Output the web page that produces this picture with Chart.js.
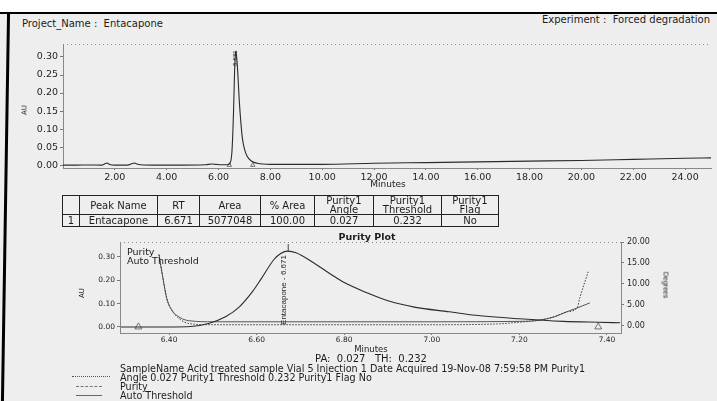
<!DOCTYPE html>
<html>
<head>
<meta charset="utf-8">
<script src="https://cdn.jsdelivr.net/npm/chart.js@4.4.0/dist/chart.umd.min.js"></script>
<style>
  html, body { margin: 0; padding: 0; }
  body { width: 717px; height: 401px; position: relative; overflow: hidden; background: #fff;
         font-family: "DejaVu Sans", sans-serif; color: #1c1c1c; }
  #sheet { position: absolute; left: 0; top: 12px; width: 717px; height: 389px; background: #eeeeee; }
  #topBorder { position: absolute; left: 0; top: 12px; width: 717px; height: 2px; background: #000; }
  #leftBorder { position: absolute; left: 4px; top: 12px; width: 3px; height: 389px; background: #000; transform: rotate(0.9deg); }
  .t { position: absolute; white-space: pre; line-height: 1; }
  .c { position: absolute; white-space: pre; line-height: 1; transform: translate(-50%, -50%); }
  canvas { position: absolute; left: 0; }
  #peakTable { position: absolute; left: 62px; top: 195px; border-collapse: collapse; table-layout: fixed;
               font-size: 10px; }
  #peakTable td { border: 1px solid #222; padding: 0; text-align: center; vertical-align: middle; line-height: 9px; }
  .leg { position: absolute; height: 0; }
</style>
</head>
<body>
<div id="sheet"></div>
<div id="topBorder"></div>
<div id="leftBorder"></div>

<div class="t" style="left:22px;top:19px;font-size:10px">Project_Name :  Entacapone</div>
<div class="t" style="right:7px;top:15px;font-size:10px">Experiment :  Forced degradation</div>

<canvas id="topChart" width="717" height="160" style="top:30px"></canvas>
<div class="c" style="left:25px;top:110px;font-size:7px;transform:translate(-50%,-50%) rotate(-90deg)">AU</div>
<div class="c" style="left:388px;top:184px;font-size:9px">Minutes</div>

<table id="peakTable"></table>
<div class="c" style="left:367px;top:237px;font-size:9.5px;font-weight:bold">Purity Plot</div>

<canvas id="purityChart" width="717" height="120" style="top:232px"></canvas>
<div class="c" style="left:82px;top:293px;font-size:7px;transform:translate(-50%,-50%) rotate(-90deg)">AU</div>
<div class="c" style="left:666px;top:285px;font-family:'Liberation Sans';font-size:7px;transform:translate(-50%,-50%) rotate(90deg)">Degrees</div>
<div class="t" style="left:127px;top:247px;font-size:9.5px">Purity</div>
<div class="t" style="left:127px;top:256px;font-size:9.5px">Auto Threshold</div>

<div class="c" style="left:371px;top:349px;font-size:8.5px">Minutes</div>
<div class="c" style="left:371px;top:359px;font-size:10px">PA:  0.027   TH:  0.232</div>
<div class="t" style="left:120px;top:364px;font-size:9.6px">SampleName Acid treated sample Vial 5 Injection 1 Date Acquired 19-Nov-08 7:59:58 PM Purity1</div>
<div class="t" style="left:120px;top:373px;font-size:9.6px">Angle 0.027 Purity1 Threshold 0.232 Purity1 Flag No</div>
<div class="t" style="left:120px;top:382px;font-size:9.6px">Purity</div>
<div class="t" style="left:120px;top:391px;font-size:9.6px">Auto Threshold</div>
<div class="leg" style="left:72px;top:376px;width:38px;border-top:1px dotted #555"></div>
<div class="leg" style="left:76px;top:386px;width:26px;border-top:1px dashed #777"></div>
<div class="leg" style="left:76px;top:395px;width:26px;border-top:1px solid #666"></div>

<script>
// full chromatogram
const topXTicks = [2, 4, 6, 8, 10, 12, 14, 16, 18, 20, 22, 24];
const topYTicks = [0, 0.05, 0.10, 0.15, 0.20, 0.25, 0.30];
const chromTime = [0, 0.5, 1.0, 1.5, 1.6, 1.7, 1.8, 2.0, 2.5, 2.65, 2.75, 2.85, 3.0, 3.5, 4.5, 5.5, 5.75, 5.9, 6.1,
  6.35, 6.45, 6.52, 6.58, 6.62, 6.65, 6.671, 6.7, 6.74, 6.8, 6.86, 6.92, 7.0, 7.1, 7.25, 7.5, 8.0, 9.0, 10.0,
  12.0, 14.0, 16.0, 18.0, 20.0, 22.0, 24.0, 25.0];
const chromAU = [0, 0, 0.0005, 0, 0.003, 0.006, 0.002, 0, 0, 0.004, 0.006, 0.003, 0.001, 0, 0, 0.001, 0.003, 0.002, 0.001,
  0.001, 0.006, 0.04, 0.15, 0.26, 0.31, 0.316, 0.30, 0.26, 0.18, 0.12, 0.075, 0.045, 0.025, 0.012, 0.005, 0.002, 0.002, 0.002,
  0.005, 0.007, 0.009, 0.011, 0.013, 0.016, 0.019, 0.02];
const topMarkTime = [6.42, 7.32];
const topMarkAU = [0, 0];

// peak
const peakName = 'Entacapone';
const peakRT = 6.671;

// purity plot
const purXTicks = [6.4, 6.6, 6.8, 7.0, 7.2, 7.4];
const purAUTicks = [0, 0.1, 0.2, 0.3];
const purDegTicks = [0, 5, 10, 15, 20];
const purTime = [6.29, 6.40, 6.45, 6.49, 6.53, 6.56, 6.59, 6.61, 6.64, 6.655, 6.671, 6.69, 6.73, 6.77, 6.80, 6.85,
  6.90, 6.96, 7.04, 7.10, 7.20, 7.30, 7.38, 7.43];
const purAU = [0, 0, 0.002, 0.015, 0.045, 0.085, 0.15, 0.205, 0.29, 0.315, 0.325, 0.318, 0.275, 0.225, 0.19, 0.148,
  0.112, 0.085, 0.065, 0.05, 0.035, 0.024, 0.02, 0.018];
const angleTime = [6.377, 6.385, 6.395, 6.405, 6.425, 6.45, 6.5, 6.7, 7.0, 7.15, 7.2, 7.247, 7.28, 7.309, 7.332, 7.338, 7.357];
const angleDeg = [17, 12, 6.5, 4, 1.6, 0.5, 0.3, 0.3, 0.3, 0.5, 0.9, 1.4, 2.2, 3.4, 4.3, 6.7, 12.9];
const threshTime = [6.377, 6.385, 6.395, 6.405, 6.425, 6.45, 6.5, 7.0, 7.2, 7.247, 7.28, 7.309, 7.332, 7.361];
const threshDeg = [17, 12, 6.5, 4, 2, 1.2, 1.0, 1.0, 1.1, 1.4, 2.2, 3.4, 4.3, 5.5];
const purMarkTime = [6.33, 7.38];
const purMarkAU = [0, 0];

// peak table
const tableHead = [[''], ['Peak Name'], ['RT'], ['Area'], ['% Area'], ['Purity1', 'Angle'], ['Purity1', 'Threshold'], ['Purity1', 'Flag']];
const tableRow = ['1', 'Entacapone', '6.671', '5077048', '100.00', '0.027', '0.232', 'No'];
const colWidths = [17, 78, 42, 61, 54, 59, 68, 57];

const fam = 'DejaVu Sans';
const ink = '#1f1f1f';
const pts = (xs, ys) => xs.map((x, i) => ({ x: x, y: ys[i] }));
const setTicks = (vals) => (s) => { s.ticks = vals.map(v => ({ value: v })); };

const table = document.getElementById('peakTable');
const cg = document.createElement('colgroup');
colWidths.forEach(w => { const c = document.createElement('col'); c.style.width = w + 'px'; cg.appendChild(c); });
table.appendChild(cg);
const hr = table.insertRow();
tableHead.forEach(lines => { const td = hr.insertCell(); td.innerHTML = lines.join('<br>'); td.style.height = '18px'; });
const dr = table.insertRow();
tableRow.forEach(v => { const td = dr.insertCell(); td.textContent = v; td.style.height = '11px'; });

const frameTop = {
  id: 'frameTop',
  beforeDatasetsDraw(chart) {
    const { ctx, chartArea } = chart;
    ctx.save();
    ctx.strokeStyle = '#8a8a8a';
    ctx.lineWidth = 1;
    ctx.setLineDash([1, 3]);
    ctx.beginPath();
    ctx.moveTo(chartArea.left, chartArea.top + 0.5);
    ctx.lineTo(chartArea.right, chartArea.top + 0.5);
    ctx.stroke();
    ctx.restore();
  }
};

const peakLabel = {
  id: 'peakLabel',
  afterDatasetsDraw(chart, args, opts) {
    const { ctx, scales } = chart;
    const x = scales.x.getPixelForValue(opts.rt);
    const y = scales.y.getPixelForValue(opts.au);
    ctx.save();
    if (opts.tick) {
      ctx.strokeStyle = '#444';
      ctx.beginPath();
      ctx.moveTo(x + 0.5, y);
      ctx.lineTo(x + 0.5, y - opts.tick);
      ctx.stroke();
    }
    ctx.translate(x + opts.dx, y + opts.dy);
    ctx.rotate(-Math.PI / 2);
    ctx.font = opts.font;
    ctx.fillStyle = ink;
    ctx.textAlign = 'right';
    ctx.textBaseline = 'middle';
    ctx.fillText(opts.text, 0, 0);
    ctx.restore();
  }
};

const axisStyle = (size, tickLen, pad) => ({
  ticks: { font: { family: fam, size: size }, color: ink, padding: pad, maxRotation: 0, autoSkip: false,
           callback: v => Number(v).toFixed(2) },
  grid: { display: true, drawOnChartArea: false, drawTicks: true, tickLength: tickLen, color: '#777' },
  border: { display: true, color: '#888', dash: [1, 2] }
});

new Chart(document.getElementById('topChart').getContext('2d'), {
  type: 'line',
  data: {
    datasets: [
      { data: pts(chromTime, chromAU), borderColor: '#2b2b2b', borderWidth: 1.1, pointRadius: 0,
        cubicInterpolationMode: 'monotone' },
      { data: pts(topMarkTime, topMarkAU), showLine: false, pointStyle: 'triangle', pointRadius: 2.5,
        borderColor: '#555', borderWidth: 0.8, backgroundColor: 'transparent' }
    ]
  },
  options: {
    responsive: false,
    animation: false,
    layout: { padding: { left: 0, right: 6, top: 14, bottom: 0 } },
    plugins: {
      legend: { display: false },
      tooltip: { enabled: false },
      peakLabel: { rt: peakRT, au: 0.316, dx: 0, dy: -1, text: '6.671', font: '5.5px "DejaVu Sans"' }
    },
    scales: {
      x: Object.assign(axisStyle(9.5, 2, 2), { type: 'linear', min: 0, max: 25,
        afterBuildTicks: setTicks(topXTicks), afterFit: s => { s.height = 22; } }),
      y: Object.assign(axisStyle(9.5, 3, 2), { min: -0.008, max: 0.336,
        afterBuildTicks: setTicks(topYTicks), afterFit: s => { s.width = 63; } })
    }
  },
  plugins: [frameTop, peakLabel]
});

new Chart(document.getElementById('purityChart').getContext('2d'), {
  type: 'line',
  data: {
    datasets: [
      { label: 'Entacapone', data: pts(purTime, purAU), yAxisID: 'y', borderColor: '#2b2b2b', borderWidth: 1.1,
        pointRadius: 0, cubicInterpolationMode: 'monotone' },
      { label: 'Purity', data: pts(angleTime, angleDeg), yAxisID: 'y2', borderColor: '#3a3a3a', borderWidth: 1,
        borderDash: [1.5, 1.5], pointRadius: 0, cubicInterpolationMode: 'monotone' },
      { label: 'Auto Threshold', data: pts(threshTime, threshDeg), yAxisID: 'y2', borderColor: '#555', borderWidth: 1,
        pointRadius: 0, cubicInterpolationMode: 'monotone' },
      { data: pts(purMarkTime, purMarkAU), yAxisID: 'y', showLine: false, pointStyle: 'triangle', pointRadius: 4,
        borderColor: '#555', borderWidth: 0.8, backgroundColor: 'transparent' }
    ]
  },
  options: {
    responsive: false,
    animation: false,
    layout: { padding: { left: 0, right: 0, top: 10, bottom: 0 } },
    plugins: {
      legend: { display: false },
      tooltip: { enabled: false },
      peakLabel: { rt: peakRT, au: 0.325, dx: -4, dy: 4, tick: 7, text: peakName + ' - ' + peakRT,
                   font: '8px "Liberation Sans"' }
    },
    scales: {
      x: Object.assign(axisStyle(7.5, 2, 1), { type: 'linear', min: 6.288, max: 7.432,
        afterBuildTicks: setTicks(purXTicks), afterFit: s => { s.height = 19; } }),
      y: Object.assign(axisStyle(7.5, 3, 2), { min: -0.026, max: 0.364,
        afterBuildTicks: setTicks(purAUTicks), afterFit: s => { s.width = 120; } }),
      y2: Object.assign(axisStyle(8, 3, 3), { position: 'right', min: -1.67, max: 20,
        afterBuildTicks: setTicks(purDegTicks), afterFit: s => { s.width = 96; } })
    }
  },
  plugins: [frameTop, peakLabel]
});
</script>
</body>
</html>
